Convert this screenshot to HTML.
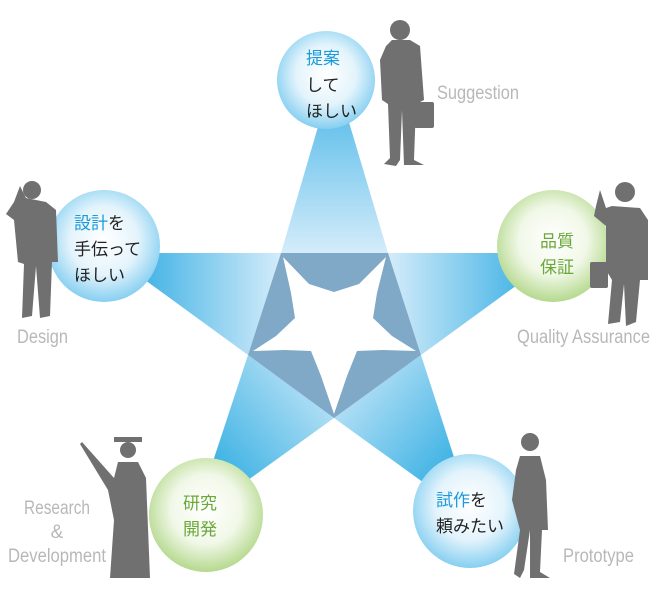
<!DOCTYPE html>
<html><head><meta charset="utf-8"><style>
html,body{margin:0;padding:0;background:#fff}
svg{display:block}
.j{font-family:"Liberation Sans","Noto Sans CJK JP",sans-serif;font-size:17px;fill:#222}
.b{fill:#1a9ad9}.g{fill:#6aa83a}
.l{font-family:"Liberation Sans",sans-serif;font-size:19px;fill:#b8b8b8}
.s{fill:#707070}
</style></head><body>
<svg width="670" height="610" viewBox="0 0 670 610">
<defs>
<radialGradient id="cb" cx="50%" cy="45%" r="55%"><stop offset="0" stop-color="#fff"/><stop offset=".55" stop-color="#e4f4fc"/><stop offset="1" stop-color="#86cff1"/></radialGradient>
<radialGradient id="cg" cx="50%" cy="45%" r="55%"><stop offset="0" stop-color="#fff"/><stop offset=".55" stop-color="#f1f8e8"/><stop offset="1" stop-color="#b5d98e"/></radialGradient>
<linearGradient id="at" x1="0" y1="1" x2="0" y2="0"><stop offset="0" stop-color="#d4ecfa"/><stop offset="1" stop-color="#3fb2e6"/></linearGradient>
<linearGradient id="al" x1="1" y1="0" x2="0" y2="0"><stop offset="0" stop-color="#d4ecfa"/><stop offset="1" stop-color="#1fa5e0"/></linearGradient>
<linearGradient id="ar" x1="0" y1="0" x2="1" y2="0"><stop offset="0" stop-color="#d4ecfa"/><stop offset="1" stop-color="#1fa5e0"/></linearGradient>
<linearGradient id="abl" x1="1" y1="0" x2="0" y2="1"><stop offset="0" stop-color="#d4ecfa"/><stop offset="1" stop-color="#0ea0dd"/></linearGradient>
<linearGradient id="abr" x1="0" y1="0" x2="1" y2="1"><stop offset="0" stop-color="#d4ecfa"/><stop offset="1" stop-color="#0ea0dd"/></linearGradient>
</defs>
<polygon points="334,72 281,253 388,253" fill="url(#at)"/>
<polygon points="108,253 281,253 248,355" fill="url(#al)"/>
<polygon points="561,253 388,253 421,355" fill="url(#ar)"/>
<polygon points="194,519 248,355 334,418" fill="url(#abl)"/>
<polygon points="474,519 421,355 334,418" fill="url(#abr)"/>
<polygon points="281,253 388,253 421,355 334,418 248,355" fill="#80a9c8"/>
<polygon points="283,257 309,284 334,292 359,284 386,257 377,293 373,318 392,336 416,351 383,350 357,351 347,376 334,414 321,376 311,351 285,350 253,351 276,336 295,318 291,293" fill="#fff"/>
<circle cx="326" cy="80" r="49" fill="url(#cb)"/>
<circle cx="104" cy="246" r="56" fill="url(#cb)"/>
<circle cx="553" cy="246" r="56" fill="url(#cg)"/>
<circle cx="206" cy="515" r="57" fill="url(#cg)"/>
<circle cx="470" cy="511" r="57" fill="url(#cb)"/>
<text class="j" x="306" y="64"><tspan class="b">提案</tspan></text>
<text class="j" x="306" y="91">して</text>
<text class="j" x="306" y="117">ほしい</text>
<text class="j" x="74" y="229"><tspan class="b">設計</tspan>を</text>
<text class="j" x="74" y="255">手伝って</text>
<text class="j" x="74" y="281">ほしい</text>
<text class="j g" x="540" y="247">品質</text>
<text class="j g" x="540" y="273">保証</text>
<text class="j g" x="183" y="509">研究</text>
<text class="j g" x="183" y="535">開発</text>
<text class="j" x="436" y="506"><tspan class="b">試作</tspan>を</text>
<text class="j" x="436" y="532">頼みたい</text>
<text class="l" x="437" y="99" textLength="82" lengthAdjust="spacingAndGlyphs">Suggestion</text>
<text class="l" x="17" y="343" textLength="51" lengthAdjust="spacingAndGlyphs">Design</text>
<text class="l" x="517" y="343" textLength="133" lengthAdjust="spacingAndGlyphs">Quality Assurance</text>
<text class="l" x="24" y="514" textLength="66" lengthAdjust="spacingAndGlyphs">Research</text>
<text class="l" x="57" y="538" text-anchor="middle">&amp;</text>
<text class="l" x="8" y="562" textLength="98" lengthAdjust="spacingAndGlyphs">Development</text>
<text class="l" x="563" y="562" textLength="71" lengthAdjust="spacingAndGlyphs">Prototype</text>
<g class="s">
<circle cx="400" cy="30" r="10"/>
<path d="M386,46 L392,40 L410,40 L420,46 L424,100 L416,104 L414,160 L424,165 L404,165 L402,110 L400,160 L396,166 L384,164 L390,158 L388,104 L382,100 L380,60 Z"/>
<rect x="414" y="102" width="20" height="26" rx="2"/>
<circle cx="32" cy="190" r="9"/>
<path d="M14,202 L20,186 L26,198 L46,202 L56,210 L58,262 L52,262 L50,316 L40,318 L36,266 L32,316 L22,318 L24,264 L18,262 L14,220 L6,214 Z"/>
<circle cx="625" cy="192" r="10"/>
<path d="M596,206 L600,190 L606,208 L612,206 L640,208 L648,220 L648,280 L640,280 L636,322 L626,326 L624,284 L620,322 L608,324 L612,280 L606,270 L606,226 L594,216 Z"/>
<rect x="590" y="262" width="18" height="26" rx="2"/>
<circle cx="128" cy="450" r="8"/>
<rect x="114" y="437" width="28" height="5"/>
<path d="M80,444 L82,442 L114,478 L118,462 L138,462 L146,478 L150,578 L110,578 L114,520 L108,490 Z"/>
<circle cx="530" cy="442" r="9"/>
<path d="M520,456 L540,456 L546,480 L548,530 L542,530 L540,572 L550,578 L530,578 L530,530 L524,570 L520,578 L514,574 L520,530 L512,500 L516,470 Z"/>
</g>
</svg>
</body></html>
